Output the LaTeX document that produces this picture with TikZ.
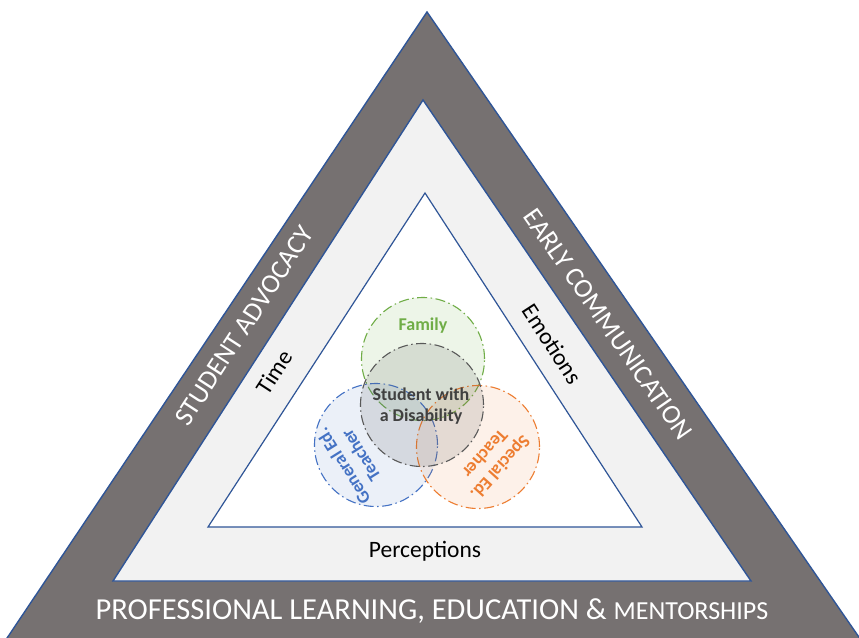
\documentclass[tikz,border=0pt]{standalone}
\usepackage{fontspec}
\setmainfont{Carlito}
\definecolor{bandgray}{HTML}{767171}
\definecolor{edgeblue}{HTML}{2F5597}
\definecolor{midfill}{HTML}{F2F2F2}
\definecolor{famgreen}{HTML}{70AD47}
\definecolor{genblue}{HTML}{4472C4}
\definecolor{sporange}{HTML}{ED7D31}
\definecolor{studgray}{HTML}{595959}
\definecolor{studtext}{HTML}{404040}
\tikzset{
  tri/.style={draw=edgeblue, line width=1.4pt},
  ring/.style={circle, minimum size=123pt, inner sep=0pt, line width=1.1pt,
    dash pattern=on 10pt off 3.5pt on 1.5pt off 3.5pt},
  bandtext/.style={text=white, font=\fontsize{27}{31}\selectfont},
  innertext/.style={text=black, font=\fontsize{23.5}{26}\selectfont},
  circtext/.style={font=\bfseries\fontsize{18}{20.5}\selectfont, align=center}
}
\begin{document}
\begin{tikzpicture}[x=1pt,y=-1pt]
\useasboundingbox (0,0) rectangle (859,637);
\begin{scope}
\clip (0,0) rectangle (859,637);
\draw[tri, fill=bandgray] (427,12) -- (-5,656) -- (872,656) -- cycle;
\draw[tri, fill=midfill] (423,100) -- (113,581) -- (751,581) -- cycle;
\draw[tri, fill=white, line width=1.2pt] (425,193) -- (208,527) -- (642,527) -- cycle;
\end{scope}
% circles
\node[ring, draw=famgreen, fill=famgreen, fill opacity=0.12] (fam) at (423,359) {};
\node[ring, draw=genblue, fill=genblue, fill opacity=0.10] (gen) at (376,445) {};
\node[ring, draw=sporange, fill=sporange, fill opacity=0.10] (spe) at (478,447) {};
\node[ring, draw=studgray, fill=studgray, fill opacity=0.15] (stu) at (422,405) {};
% circle texts
\node[circtext, text=famgreen] (famt) at (423,326) {Family};
\node[circtext, text=studtext] (stut) at (421,406) {Student with\\a Disability};
\node[circtext, text=genblue, rotate=122] (gent) at (352,461) {General Ed.\\Teacher};
\node[circtext, text=sporange, rotate=228] (spet) at (493,461) {Special Ed.\\Teacher};
% band labels
\node[bandtext, rotate=57] (adv) at (244,326) {STUDENT ADVOCACY};
\node[bandtext, rotate=-55] (com) at (608,324) {EARLY COMMUNICATION};
\node[text=white, font=\fontsize{30.5}{34}\selectfont] (pro) at (432,611) {PROFESSIONAL LEARNING, EDUCATION \& {\fontsize{26}{30}\selectfont MENTORSHIPS}};
% inner labels
\node[innertext, rotate=57] (time) at (274,372) {Time};
\node[innertext, rotate=-57] (emo) at (552,344) {Emotions};
\node[innertext] (per) at (425,551) {Perceptions};
\end{tikzpicture}
\end{document}
